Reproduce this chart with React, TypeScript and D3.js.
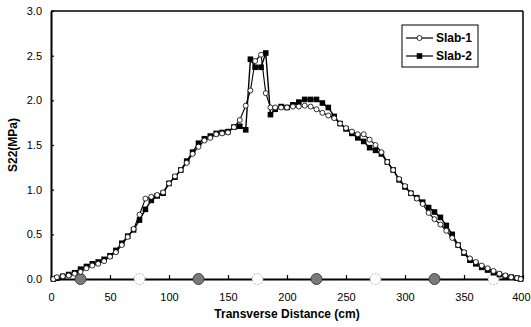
import { useEffect, useRef } from 'react';
import * as d3 from 'd3';

// Transverse positions (cm)
const distances = [
  2, 5, 10, 15, 20, 25, 30, 35, 40, 45, 50, 55, 60, 65, 70, 75, 80, 85, 90, 95,
  100, 105, 110, 115, 120, 125, 130, 135, 140, 145, 150, 155, 160, 165, 169, 173, 178, 182, 186, 190,
  195, 200, 205, 210, 215, 220, 225, 230, 235, 240, 245, 250, 255, 260, 265, 270, 275, 280, 285, 290,
  295, 300, 305, 310, 315, 320, 325, 330, 335, 340, 345, 350, 355, 360, 365, 370, 375, 380, 385, 390,
  395, 398,
];

const slab1 = [
  0.0, 0.02, 0.03, 0.04, 0.06, 0.08, 0.12, 0.15, 0.17, 0.2, 0.25, 0.3, 0.38, 0.47, 0.56, 0.72, 0.9, 0.92, 0.94, 0.97,
  1.07, 1.15, 1.22, 1.3, 1.4, 1.48, 1.55, 1.58, 1.62, 1.63, 1.64, 1.7, 1.78, 1.94, 2.11, 2.44, 2.51, 2.08, 1.92, 1.92,
  1.92, 1.92, 1.93, 1.93, 1.94, 1.93, 1.9, 1.86, 1.83, 1.8, 1.74, 1.69, 1.65, 1.62, 1.62, 1.56, 1.5, 1.42, 1.31, 1.22,
  1.12, 1.04, 0.96, 0.9, 0.84, 0.74, 0.67, 0.61, 0.54, 0.46, 0.38, 0.3, 0.23, 0.19, 0.15, 0.12, 0.09, 0.06, 0.04, 0.02,
  0.01, 0.0,
];

const slab2 = [
  0.0, 0.01, 0.03, 0.05, 0.07, 0.11, 0.14, 0.17, 0.19, 0.22, 0.26, 0.32, 0.4, 0.48, 0.55, 0.66, 0.78, 0.88, 0.93, 0.96,
  1.07, 1.14, 1.22, 1.32, 1.42, 1.52, 1.57, 1.6, 1.63, 1.64, 1.65, 1.7, 1.71, 1.67, 2.46, 2.37, 2.37, 2.53, 1.84, 1.9,
  1.93, 1.92, 1.95, 1.98, 2.01, 2.01, 2.01, 1.97, 1.92, 1.82, 1.74, 1.68, 1.63, 1.58, 1.54, 1.47, 1.44, 1.4, 1.31, 1.22,
  1.11, 1.03, 0.96, 0.91, 0.86, 0.8, 0.75, 0.69, 0.6, 0.5, 0.38, 0.29, 0.21, 0.17, 0.13, 0.1, 0.07, 0.05, 0.03, 0.02,
  0.01, 0.0,
];

// Gauge positions marked on the x axis
const gaugeX = [25, 75, 125, 175, 225, 275, 325, 375];
const gaugeFilled = [true, false, true, false, true, false, true, false];

const xTicks = [0, 50, 100, 150, 200, 250, 300, 350, 400];
const yTicks = [0, 0.5, 1, 1.5, 2, 2.5, 3];

const FONT = '"Liberation Sans", Arial, sans-serif';

export default function App() {
  const svgRef = useRef<SVGSVGElement>(null);

  useEffect(() => {
    document.body.style.margin = '0';
    if (!svgRef.current) return;
    const svg = d3.select(svgRef.current);
    svg.selectAll('*').remove();

    const W = 531;
    const H = 327;
    const margin = { top: 11, right: 8, bottom: 48, left: 51 };
    const x = d3.scaleLinear().domain([0, 400]).range([margin.left, W - margin.right]);
    const y = d3.scaleLinear().domain([0, 3]).range([H - margin.bottom, margin.top]);

    svg.attr('width', W).attr('height', H);
    svg.append('rect').attr('width', W).attr('height', H).attr('fill', '#fff');

    // frame top and right
    svg.append('line')
      .attr('x1', x(0)).attr('x2', x(400)).attr('y1', y(3)).attr('y2', y(3))
      .attr('stroke', '#000').attr('stroke-width', 1.5);
    svg.append('line')
      .attr('x1', x(400)).attr('x2', x(400)).attr('y1', y(3)).attr('y2', y(0))
      .attr('stroke', '#000').attr('stroke-width', 1.5);

    // axes
    const xAxis = svg.append('g')
      .attr('transform', `translate(0,${y(0)})`)
      .call(d3.axisBottom(x).tickValues(xTicks).tickSizeInner(-4).tickSizeOuter(0));
    const yAxis = svg.append('g')
      .attr('transform', `translate(${x(0)},0)`)
      .call(d3.axisLeft(y).tickValues(yTicks).tickFormat(d3.format('.1f')).tickSizeInner(-3).tickSizeOuter(0).tickPadding(13));
    [xAxis, yAxis].forEach(g => {
      g.select('.domain').attr('stroke', '#000').attr('stroke-width', 2);
      g.selectAll('.tick line').attr('stroke', '#000').attr('stroke-width', 1.2);
      g.selectAll('.tick text')
        .attr('font-family', FONT).attr('font-size', 11).attr('fill', '#000');
    });
    yAxis.selectAll('.tick text').attr('dx', 4);
    xAxis.selectAll('.tick text').attr('dy', '0.35em').attr('y', 18);
    // last label sits against the right edge
    xAxis.selectAll<SVGTextElement, number>('.tick text')
      .filter(d => d === 400)
      .attr('text-anchor', 'end')
      .attr('x', W - 1 - x(400));

    // gauges on x axis
    svg.append('g').selectAll('circle')
      .data(gaugeX)
      .enter()
      .append('circle')
      .attr('cx', d => x(d))
      .attr('cy', y(0))
      .attr('r', 5.5)
      .attr('fill', (_, i) => (gaugeFilled[i] ? '#7a7a7a' : '#fff'))
      .attr('stroke', (_, i) => (gaugeFilled[i] ? '#444' : '#aaa'))
      .attr('stroke-width', 1)
      .attr('stroke-dasharray', (_, i) => (gaugeFilled[i] ? null : '2,1.5'));

    const line = d3.line<number>()
      .x((_, i) => x(distances[i]))
      .y(d => y(d));

    // Slab-2 (squares)
    svg.append('path')
      .datum(slab2)
      .attr('d', line)
      .attr('fill', 'none')
      .attr('stroke', '#000')
      .attr('stroke-width', 1.4);
    svg.append('g').selectAll('rect')
      .data(slab2)
      .enter()
      .append('rect')
      .attr('x', (_, i) => x(distances[i]) - 2.8)
      .attr('y', d => y(d) - 2.8)
      .attr('width', 5.6)
      .attr('height', 5.6)
      .attr('fill', '#000');

    // Slab-1 (open circles)
    svg.append('path')
      .datum(slab1)
      .attr('d', line)
      .attr('fill', 'none')
      .attr('stroke', '#000')
      .attr('stroke-width', 1.1);
    svg.append('g').selectAll('circle')
      .data(slab1)
      .enter()
      .append('circle')
      .attr('cx', (_, i) => x(distances[i]))
      .attr('cy', d => y(d))
      .attr('r', 2.5)
      .attr('fill', '#fff')
      .attr('stroke', '#000')
      .attr('stroke-width', 0.8);

    // axis titles
    svg.append('text')
      .attr('x', (x(0) + x(400)) / 2)
      .attr('y', 318)
      .attr('text-anchor', 'middle')
      .attr('font-family', FONT)
      .attr('font-size', 12)
      .attr('font-weight', 'bold')
      .text('Transverse Distance (cm)');
    svg.append('text')
      .attr('transform', `translate(17,${(y(0) + y(3)) / 2}) rotate(-90)`)
      .attr('text-anchor', 'middle')
      .attr('font-family', FONT)
      .attr('font-size', 12)
      .attr('font-weight', 'bold')
      .text('S22(MPa)');

    // legend
    const lg = svg.append('g').attr('transform', 'translate(402,25)');
    lg.append('rect')
      .attr('width', 76).attr('height', 42)
      .attr('fill', '#fff').attr('stroke', '#000').attr('stroke-width', 1);
    const items = [
      { name: 'Slab-1', yy: 13, open: true },
      { name: 'Slab-2', yy: 31, open: false },
    ];
    items.forEach(it => {
      lg.append('line')
        .attr('x1', 4).attr('x2', 31).attr('y1', it.yy).attr('y2', it.yy)
        .attr('stroke', '#000').attr('stroke-width', 1.2);
      if (it.open) {
        lg.append('circle').attr('cx', 17.5).attr('cy', it.yy).attr('r', 2.5)
          .attr('fill', '#fff').attr('stroke', '#000').attr('stroke-width', 0.8);
      } else {
        lg.append('rect').attr('x', 14.7).attr('y', it.yy - 2.8).attr('width', 5.6).attr('height', 5.6)
          .attr('fill', '#000');
      }
      lg.append('text')
        .attr('x', 34).attr('y', it.yy)
        .attr('dy', '0.35em')
        .attr('font-family', FONT)
        .attr('font-size', 12)
        .attr('font-weight', 'bold')
        .text(it.name);
    });
  }, []);

  return <svg ref={svgRef} style={{ display: 'block' }} />;
}
